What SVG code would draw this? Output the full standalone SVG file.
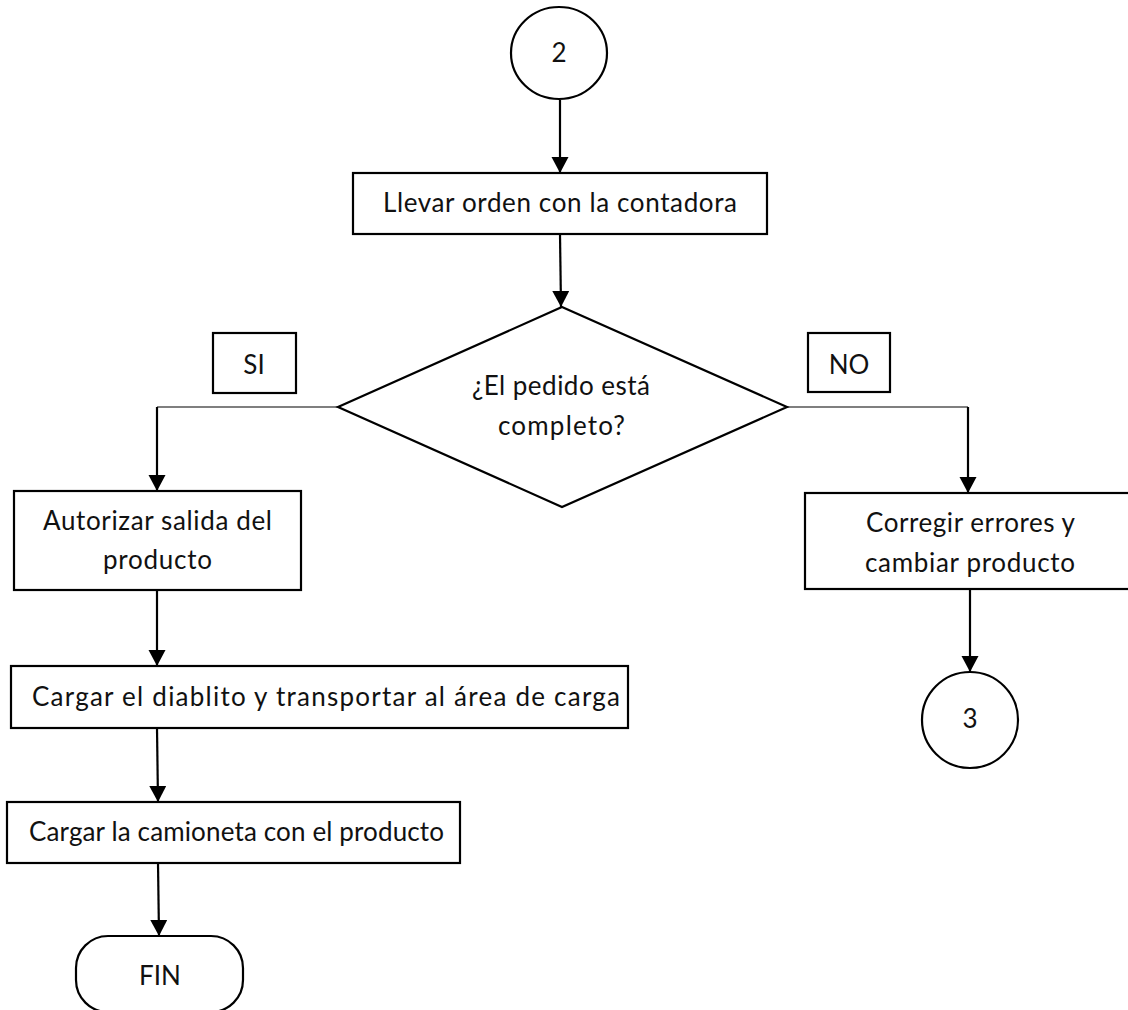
<svg xmlns="http://www.w3.org/2000/svg" width="1128" height="1010" viewBox="0 0 1128 1010">
  <style>
    .shape { fill: #ffffff; stroke: #000000; stroke-width: 2.2; }
    .label { font-family: Lato, "Liberation Sans", sans-serif; font-size: 26px; fill: #111111; }
    .mid { text-anchor: middle; }
    .link { fill: none; stroke: #000000; stroke-width: 2.2; }
    .thin { fill: none; stroke: #000000; stroke-width: 1.2; }
  </style>
  <defs>
    <marker id="arrow" markerUnits="userSpaceOnUse" markerWidth="18" markerHeight="18" refX="16" refY="8.5" orient="auto">
      <path d="M0,0 L16,8.5 L0,17 Z" fill="#000000"/>
    </marker>
  </defs>
  <rect width="1128" height="1010" fill="#ffffff"/>

  <!-- connectors -->
  <g id="connectors">
    <path class="link" d="M560,100 L560,173" marker-end="url(#arrow)"/>
    <path class="link" d="M560,234 L561,307" marker-end="url(#arrow)"/>
    <path class="thin" d="M338,407 L157,407"/>
    <path class="link" d="M157,407 L157,491" marker-end="url(#arrow)"/>
    <path class="thin" d="M787,407 L968,407"/>
    <path class="link" d="M968,407 L968,493" marker-end="url(#arrow)"/>
    <path class="link" d="M157,590 L157,666" marker-end="url(#arrow)"/>
    <path class="link" d="M157,728 L158,802" marker-end="url(#arrow)"/>
    <path class="link" d="M158,863 L159,936" marker-end="url(#arrow)"/>
    <path class="link" d="M970,589 L970,672" marker-end="url(#arrow)"/>
  </g>

  <!-- connector 2 -->
  <g id="node-connector-2">
    <ellipse class="shape" cx="559" cy="53" rx="48" ry="46"/>
    <text class="label mid" x="559" y="62">2</text>
  </g>

  <g id="node-llevar-orden">
    <rect class="shape" x="353" y="173" width="414" height="61"/>
    <text class="label" x="383" y="212" textLength="354">Llevar orden con la contadora</text>
  </g>

  <g id="node-decision">
    <polygon class="shape" points="562,307 787,407 562,507 338,407"/>
    <text class="label" x="472" y="395" textLength="178">¿El pedido está</text>
    <text class="label" x="498" y="435" textLength="127">completo?</text>
  </g>

  <g id="label-si">
    <rect class="shape" x="213" y="333" width="83" height="60"/>
    <text class="label mid" x="254" y="374">SI</text>
  </g>

  <g id="label-no">
    <rect class="shape" x="808" y="333" width="82" height="59"/>
    <text class="label mid" x="849" y="374">NO</text>
  </g>

  <g id="node-autorizar">
    <rect class="shape" x="14" y="491" width="287" height="99"/>
    <text class="label" x="43" y="530" textLength="229">Autorizar salida del</text>
    <text class="label" x="103" y="569" textLength="109">producto</text>
  </g>

  <g id="node-corregir">
    <rect class="shape" x="805" y="493" width="330" height="96"/>
    <text class="label" x="866" y="532" textLength="209">Corregir errores y</text>
    <text class="label" x="865" y="572" textLength="210">cambiar producto</text>
  </g>

  <g id="node-connector-3">
    <ellipse class="shape" cx="970" cy="720" rx="48" ry="48"/>
    <text class="label mid" x="970" y="728">3</text>
  </g>

  <g id="node-cargar-diablito">
    <rect class="shape" x="11" y="666" width="617" height="62"/>
    <text class="label" x="32" y="706" textLength="588">Cargar el diablito y transportar al área de carga</text>
  </g>

  <g id="node-cargar-camioneta">
    <rect class="shape" x="7" y="802" width="453" height="61"/>
    <text class="label" x="29" y="841" textLength="415">Cargar la camioneta con el producto</text>
  </g>

  <g id="node-fin">
    <rect class="shape" x="76" y="936" width="167" height="76" rx="32" ry="32"/>
    <text class="label mid" x="160" y="985">FIN</text>
  </g>
</svg>
